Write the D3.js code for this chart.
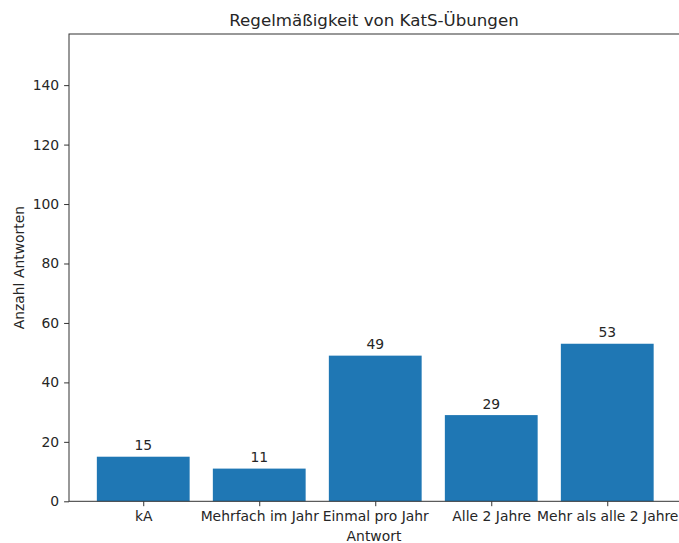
<!DOCTYPE html>
<html><head><meta charset="utf-8">
<script src="https://cdn.jsdelivr.net/npm/d3@7"></script>
<style>body{margin:0;background:#fff}svg{display:block}text{font-family:"DejaVu Sans",sans-serif;fill:#262626}</style>
</head><body>
<script>
const categories = ["kA","Mehrfach im Jahr","Einmal pro Jahr","Alle 2 Jahre","Mehr als alle 2 Jahre"];
const values = [15,11,49,29,53];
const yTicks = [0,20,40,60,80,100,120,140];
const title = "Regelmäßigkeit von KatS-Übungen";
const xLabel = "Antwort";
const yLabel = "Anzahl Antworten";

const W=679,H=543;
const mL=69, mR=681.5, mT=34, mB=501.3;
const fs="13.9px";
const svg=d3.select("body").append("svg").attr("width",W).attr("height",H);
const x=d3.scaleLinear().domain([-0.64,4.64]).range([mL,mR]);
const y=d3.scaleLinear().domain([0,157.2]).range([mB,mT]);

svg.selectAll("rect.bar").data(values).enter().append("rect")
 .attr("x",(d,i)=>x(i-0.4)).attr("width",(d,i)=>x(i+0.4)-x(i-0.4))
 .attr("y",d=>y(d)).attr("height",d=>y(0)-y(d)).attr("fill","#1f77b4");

svg.selectAll("text.val").data(values).enter().append("text")
 .attr("x",(d,i)=>x(i)).attr("y",d=>y(d)-6.5).attr("text-anchor","middle")
 .attr("font-size",fs).text(d=>d);

const xa=svg.append("g").attr("transform",`translate(0,${mB})`)
 .call(d3.axisBottom(x).tickValues(d3.range(categories.length)).tickFormat(i=>categories[i]).tickSize(4.9).tickPadding(4.9));
const ya=svg.append("g").attr("transform",`translate(${mL},0)`)
 .call(d3.axisLeft(y).tickValues(yTicks).tickSize(4.9).tickPadding(4.9));
[xa,ya].forEach(a=>{a.select(".domain").remove();a.selectAll("text").attr("font-size",fs).attr("fill","#262626").attr("font-family","DejaVu Sans");a.selectAll("line").attr("stroke","#333");});

svg.append("rect").attr("x",mL).attr("y",mT).attr("width",mR-mL).attr("height",mB-mT)
 .attr("fill","none").attr("stroke","#333").attr("stroke-width",1);

svg.append("text").attr("x",374).attr("y",25.5).attr("text-anchor","middle").attr("font-size","16.67px").text(title);
svg.append("text").attr("x",374).attr("y",541).attr("text-anchor","middle").attr("font-size",fs).text(xLabel);
svg.append("text").attr("transform",`translate(23.5,${(mT+mB)/2}) rotate(-90)`).attr("text-anchor","middle").attr("font-size",fs).text(yLabel);
</script>
</body></html>
